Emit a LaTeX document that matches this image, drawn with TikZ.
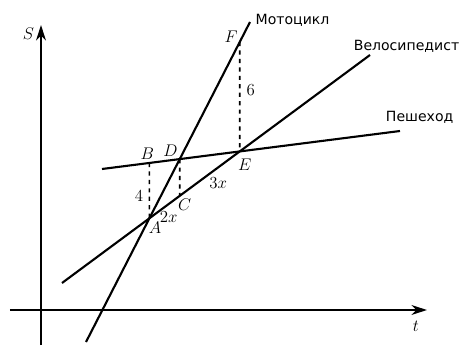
\documentclass[tikz,border=0pt]{standalone}
\usepackage{fontspec}
\newfontfamily\cyrfont{DejaVu Sans}
\usetikzlibrary{arrows.meta}

\begin{document}
\begin{tikzpicture}
\tikzset{
  axis/.style={line width=1.4pt,-{Stealth[length=11pt,width=7pt,inset=3.5pt]}},
  graph/.style={line width=1.5pt},
  proj/.style={line width=1.2pt,dash pattern=on 3pt off 3pt},
  linelabel/.style={font=\cyrfont},
  every node/.append style={inner sep=3.3pt},
  pt/.style={font=\large},
}
\useasboundingbox (-1.025,-0.875) rectangle (10.6,7.75);
% axes
\draw[axis] (-0.775,0) -- (9.65,0) node[pt,below=4pt,xshift=-8pt] (t) {$t$};
\draw[axis] (0,-0.875) -- (0,7.125) node[pt,left=1pt,yshift=-6pt] (S) {$S$};
% end points of the three graphs
\coordinate (m1) at (1.125,-0.8);  \coordinate (m2) at (5.225,7.2);
\coordinate (c1) at (0.525,0.675); \coordinate (c2) at (8.225,6.375);
\coordinate (p1) at (1.525,3.525); \coordinate (p2) at (8.975,4.475);
% meeting points
\coordinate (A) at (intersection of m1--m2 and c1--c2);
\coordinate (D) at (intersection of m1--m2 and p1--p2);
\coordinate (E) at (intersection of c1--c2 and p1--p2);
\coordinate (Atop) at (A |- m2);
\coordinate (Dbot) at (D |- m1);
\coordinate (Etop) at (E |- m2);
\coordinate (B) at (intersection of p1--p2 and A--Atop);
\coordinate (C) at (intersection of c1--c2 and D--Dbot);
\coordinate (F) at (intersection of m1--m2 and E--Etop);
% dashed distances
\draw[proj] (B) -- (A) node[pt,midway,left=0.5pt,yshift=-3.6pt] (l4) {$4$};
\draw[proj] (D) -- (C);
\draw[proj] (F) -- (E) node[pt,midway,right=1pt,yshift=5pt] (l6) {$6$};
% graphs
\draw[graph] (m1) -- (m2) node[right,yshift=1pt,linelabel] (moto) {Мотоцикл};
\draw[graph] (c1) -- (c2) node[above=-2pt,xshift=26pt,linelabel] (velo) {Велосипедист};
\draw[graph] (p1) -- (p2) node[above=1.5pt,xshift=14pt,linelabel] (pesh) {Пешеход};
% point labels
\path (A) node[pt,below=-1pt,xshift=4pt] (lA) {$A$};
\path (B) node[pt,above=-1pt,xshift=-1.5pt] (lB) {$B$};
\path (C) node[pt,below=-1pt,xshift=3.5pt] (lC) {$C$};
\path (D) node[pt,above left=-2pt] (lD) {$D$};
\path (E) node[pt,below=2pt,xshift=3.5pt] (lE) {$E$};
\path (F) node[pt,left=-2pt,yshift=4pt] (lF) {$F$};
\path (A) -- (C) node[pt,midway,below=0pt,xshift=3pt] (l2x) {$2x$};
\path (C) -- (E) node[pt,midway,below=-1pt,xshift=6pt] (l3x) {$3x$};
\end{tikzpicture}
\end{document}
